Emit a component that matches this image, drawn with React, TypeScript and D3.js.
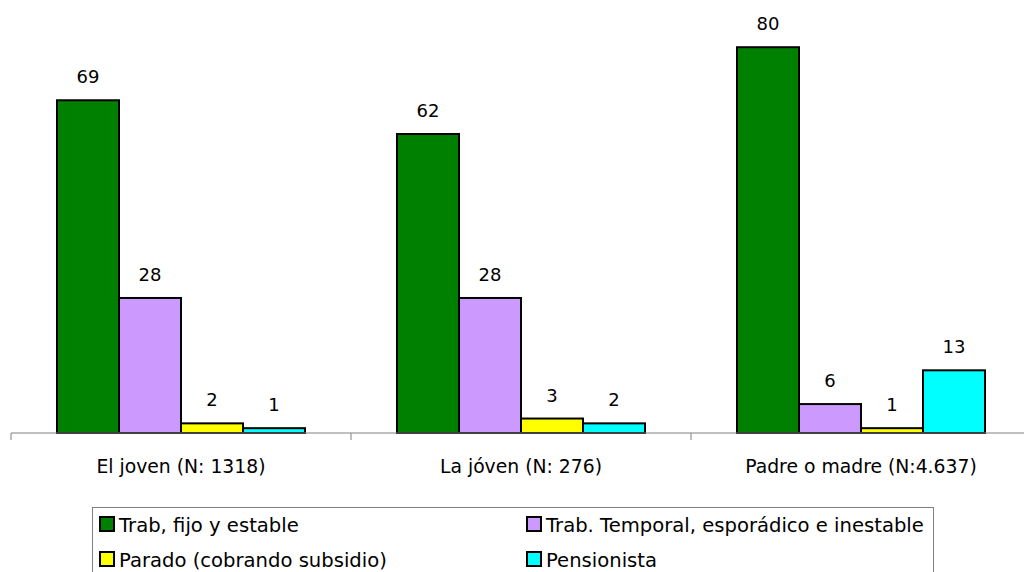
import React from "react";
import * as d3 from "d3";

const categories = ["El joven (N: 1318)", "La jóven (N: 276)", "Padre o madre (N:4.637)"];
const seriesNames = [
  "Trab, fijo y estable",
  "Trab. Temporal, esporádico e inestable",
  "Parado (cobrando subsidio)",
  "Pensionista",
];
const seriesColors = ["#008000", "#CC99FF", "#FFFF00", "#00FFFF"];
const fijo = [69, 62, 80];
const temporal = [28, 28, 6];
const parado = [2, 3, 1];
const pensionista = [1, 2, 13];
const seriesValues = [fijo, temporal, parado, pensionista];

const FONT = "'DejaVu Sans', sans-serif";

export default function App() {
  const W = 1024, H = 572;
  const x0 = 11, x1 = 1031, baseY = 433;
  const x = d3.scaleBand<string>().domain(categories).range([x0, x1]).paddingInner(0).paddingOuter(0);
  const y = d3.scaleLinear().domain([0, 90]).range([baseY, -1]);
  const groupW = x.bandwidth() * (248 / 340);
  const xs = d3.scaleBand<number>().domain(d3.range(seriesNames.length)).range([0, groupW]);
  const offset = (x.bandwidth() - groupW) / 2;

  const legendPos = [
    { x: 100, y: 517 },
    { x: 527, y: 517 },
    { x: 100, y: 552 },
    { x: 527, y: 552 },
  ];

  return (
    <svg width={W} height={H} style={{ position: "absolute", left: 0, top: 0 }} fontFamily={FONT}>
      <rect x={0} y={0} width={W} height={H} fill="#fff" />
      {seriesValues.map((vals, si) =>
        vals.map((v, ci) => {
          const bx = (x(categories[ci]) as number) + offset + (xs(si) as number);
          const by = y(v);
          return (
            <g key={`${si}-${ci}`}>
              <rect x={bx} y={by} width={xs.bandwidth()} height={baseY - by} fill={seriesColors[si]} stroke="#000" strokeWidth={2} />
              <text x={bx + xs.bandwidth() / 2} y={by - 17} textAnchor="middle" fontSize={18} fill="#000">{v}</text>
            </g>
          );
        })
      )}
      <line x1={x0} x2={x1} y1={baseY} y2={baseY} stroke="#808080" strokeWidth={1} />
      {categories.concat([""]).map((c, i) => {
        const tx = x0 + i * x.bandwidth();
        return <line key={i} x1={tx} x2={tx} y1={baseY} y2={baseY + 7} stroke="#808080" />;
      })}
      {categories.map((c) => (
        <text key={c} x={(x(c) as number) + x.bandwidth() / 2} y={473} textAnchor="middle" fontSize={18.8} fill="#000">{c}</text>
      ))}
      <rect x={92.5} y={507.5} width={841} height={80} fill="#fff" stroke="#808080" />
      {seriesNames.map((n, i) => (
        <g key={n}>
          <rect x={legendPos[i].x} y={legendPos[i].y} width={14} height={14} fill={seriesColors[i]} stroke="#000" strokeWidth={2} />
          <text x={legendPos[i].x + 19} y={legendPos[i].y + 15} fontSize={19.6} fill="#000">{n}</text>
        </g>
      ))}
    </svg>
  );
}
